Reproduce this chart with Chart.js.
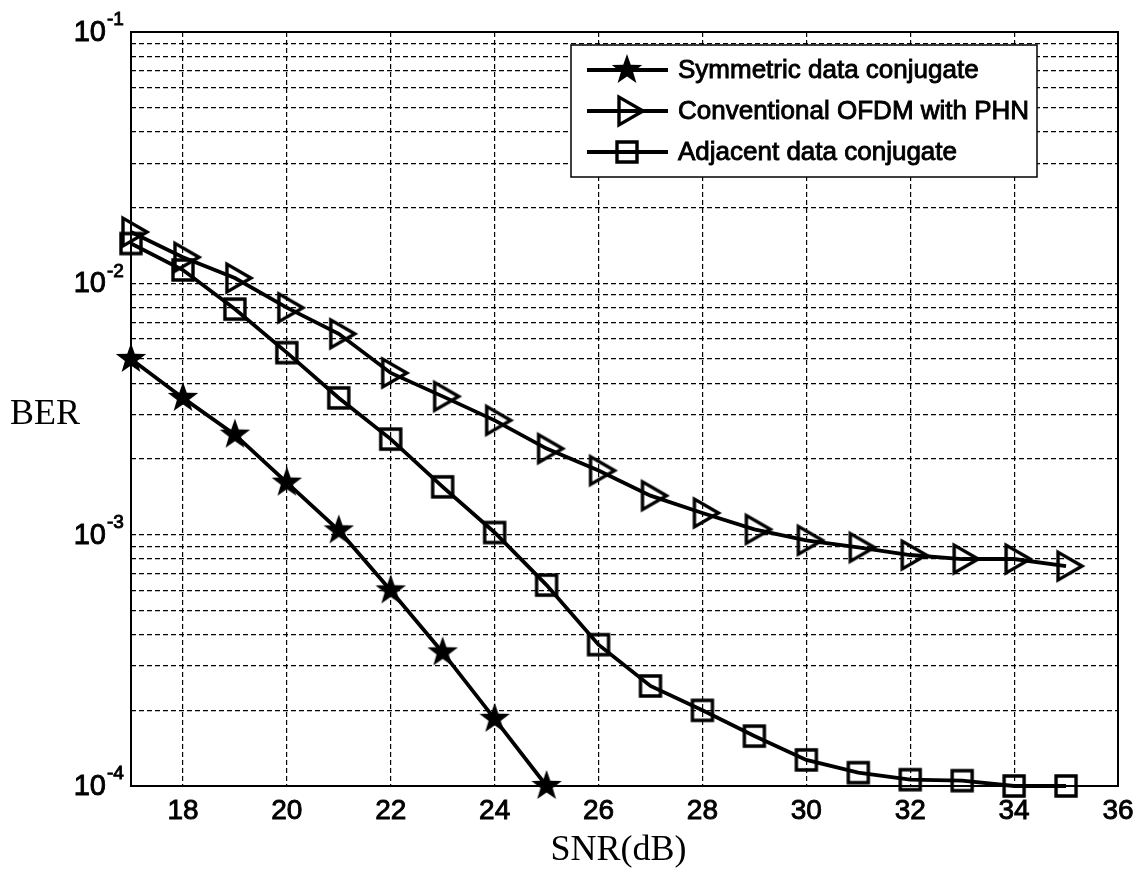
<!DOCTYPE html>
<html>
<head>
<meta charset="utf-8">
<script src="https://cdn.jsdelivr.net/npm/chart.js@4.4.0/dist/chart.umd.min.js"></script>
<style>
  html, body { margin: 0; padding: 0; background: #fff; }
  #wrap { width: 1146px; height: 874px; position: relative; }
</style>
</head>
<body>
<div id="wrap"><canvas id="berChart"></canvas></div>
<script>
// SNR (dB) on the x axis
const snrValues = [17, 18, 19, 20, 21, 22, 23, 24, 25, 26, 27, 28, 29, 30, 31, 32, 33, 34, 35];
// BER (symmetric curve stops at 25 dB)
const symmetricBer = [5.0e-3, 3.5e-3, 2.5e-3, 1.61e-3, 1.04e-3, 6.0e-4, 3.4e-4, 1.85e-4, 1.0e-4];
const conventionalBer = [1.6e-2, 1.27e-2, 1.05e-2, 8.0e-3, 6.3e-3, 4.4e-3, 3.55e-3, 2.85e-3, 2.2e-3, 1.8e-3,
  1.43e-3, 1.22e-3, 1.05e-3, 9.5e-4, 8.9e-4, 8.3e-4, 8.0e-4, 8.0e-4, 7.5e-4];
const adjacentBer = [1.44e-2, 1.13e-2, 7.9e-3, 5.3e-3, 3.5e-3, 2.4e-3, 1.55e-3, 1.02e-3, 6.3e-4, 3.65e-4,
  2.5e-4, 2.0e-4, 1.58e-4, 1.27e-4, 1.13e-4, 1.06e-4, 1.05e-4, 1.0e-4, 1.0e-4];
const seriesNames = ['Symmetric data conjugate', 'Conventional OFDM with PHN', 'Adjacent data conjugate'];

const xTicks = [18, 20, 22, 24, 26, 28, 30, 32, 34, 36];
const yMajor = [1e-4, 1e-3, 1e-2, 1e-1];
const yExponents = ['-4', '-3', '-2', '-1'];

const FONT = '"Liberation Sans", Arial, sans-serif';

// marker images (MATLAB style: filled star, hollow right triangle, hollow square)
function makeMarker(kind) {
  const c = document.createElement('canvas');
  c.width = 40; c.height = 40;
  const g = c.getContext('2d');
  const cx = 20, cy = 20;
  g.strokeStyle = '#000'; g.fillStyle = '#000';
  g.lineWidth = 3.4; g.lineJoin = 'miter';
  g.beginPath();
  if (kind === 'star') {
    for (let i = 0; i < 10; i++) {
      const r = i % 2 ? 6.4 : 16;
      const a = -Math.PI / 2 + i * Math.PI / 5;
      const px = cx + r * Math.cos(a), py = cy + r * Math.sin(a);
      if (i) g.lineTo(px, py); else g.moveTo(px, py);
    }
    g.closePath();
    g.fill();
  } else if (kind === 'tri') {
    const r = 16;
    g.moveTo(cx + r, cy);
    g.lineTo(cx - r / 2, cy - r * 0.866);
    g.lineTo(cx - r / 2, cy + r * 0.866);
    g.closePath();
    g.stroke();
  } else {
    g.rect(cx - 10, cy - 10, 20, 20);
    g.stroke();
  }
  return c;
}
const markers = [makeMarker('star'), makeMarker('tri'), makeMarker('sq')];

function toPoints(vals) {
  return vals.map((v, i) => ({ x: snrValues[i], y: v }));
}

const datasets = [symmetricBer, conventionalBer, adjacentBer].map((vals, i) => ({
  label: seriesNames[i],
  data: toPoints(vals),
  borderColor: '#000',
  backgroundColor: '#000',
  borderWidth: 3.8,
  pointStyle: markers[i],
  pointRadius: 14,
  tension: 0,
  clip: false
}));

// draw text a little heavier, like the scanned figure
function heavyText(ctx, txt, x, y) {
  ctx.lineWidth = 0.9;
  ctx.strokeStyle = '#000';
  ctx.strokeText(txt, x, y);
  ctx.fillText(txt, x, y);
}

const decorPlugin = {
  id: 'decor',
  beforeDatasetsDraw(chart) {
    const { ctx, chartArea: a } = chart;
    ctx.save();
    ctx.strokeStyle = '#000';
    ctx.lineWidth = 2;
    ctx.strokeRect(a.left, a.top, a.right - a.left, a.bottom - a.top);
    ctx.restore();
  },
  afterDraw(chart) {
    const { ctx, chartArea: a } = chart;
    const ys = chart.scales.y;
    ctx.save();
    ctx.fillStyle = '#000';
    // y labels 10^n
    yMajor.forEach((v, i) => {
      const y = ys.getPixelForValue(v);
      ctx.font = '29px ' + FONT;
      ctx.textAlign = 'right';
      ctx.textBaseline = 'middle';
      heavyText(ctx, '10', a.left - 25, y + 1);
      ctx.font = '19px ' + FONT;
      ctx.textAlign = 'left';
      heavyText(ctx, yExponents[i], a.left - 24, y - 12);
    });
    // axis names (handwritten in the scan)
    ctx.font = '36px "Liberation Serif", serif';
    ctx.textBaseline = 'middle';
    ctx.textAlign = 'left';
    ctx.fillText('BER', 10, 415);
    ctx.textAlign = 'center';
    ctx.fillText('SNR(dB)', (a.left + a.right) / 2 - 6, 851);

    // legend box
    const lx = a.right - 547, ly = a.top + 13, lw = 466, lh = 132;
    ctx.fillStyle = '#fff';
    ctx.fillRect(lx, ly, lw, lh);
    ctx.strokeStyle = '#000';
    ctx.lineWidth = 1.5;
    ctx.strokeRect(lx, ly, lw, lh);
    seriesNames.forEach((name, i) => {
      const ry = ly + 25 + i * 41;
      ctx.strokeStyle = '#000';
      ctx.lineWidth = 3.8;
      ctx.beginPath();
      ctx.moveTo(lx + 16, ry);
      ctx.lineTo(lx + 97, ry);
      ctx.stroke();
      const m = markers[i];
      ctx.drawImage(m, lx + 56 - m.width / 2, ry - m.height / 2);
      ctx.fillStyle = '#000';
      ctx.font = '26px ' + FONT;
      ctx.textAlign = 'left';
      ctx.textBaseline = 'middle';
      heavyText(ctx, name, lx + 107, ry + 1);
    });
    ctx.restore();
  }
};

new Chart(document.getElementById('berChart'), {
  type: 'line',
  data: { datasets },
  options: {
    responsive: true,
    maintainAspectRatio: false,
    animation: false,
    layout: { padding: { top: 32, right: 28, left: 0, bottom: 0 } },
    plugins: { legend: { display: false }, tooltip: { enabled: false } },
    scales: {
      x: {
        type: 'linear',
        min: 17,
        max: 36,
        afterBuildTicks: s => { s.ticks = xTicks.map(v => ({ value: v })); },
        afterFit: s => { s.height = 88; },
        grid: { color: '#000', lineWidth: 1.2, drawTicks: false },
        border: { display: false, dash: [5, 3] },
        ticks: {
          color: '#000', font: { family: FONT, size: 28 }, padding: 8, maxRotation: 0, autoSkip: false,
          textStrokeColor: '#000', textStrokeWidth: 0.9
        }
      },
      y: {
        type: 'logarithmic',
        min: 1e-4,
        max: 1e-1,
        afterBuildTicks: s => {
          const t = [];
          for (let e = -4; e < -1; e++) for (let k = 1; k < 10; k++) t.push({ value: k * Math.pow(10, e) });
          t.push({ value: 1e-1 });
          s.ticks = t;
        },
        afterFit: s => { s.width = 131; },
        grid: { color: '#000', lineWidth: 1.2, drawTicks: false },
        border: { display: false, dash: [5, 3] },
        ticks: { callback: () => '', autoSkip: false }
      }
    }
  },
  plugins: [decorPlugin]
});
</script>
</body>
</html>
